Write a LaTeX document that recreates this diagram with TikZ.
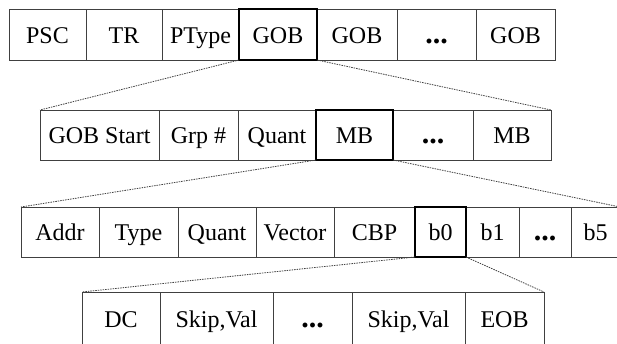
\documentclass[tikz,border=0pt]{standalone}
\usepackage{fontspec}
\setmainfont{Liberation Serif}
\usepackage{tikz}
\usetikzlibrary{shapes}
\usetikzlibrary{arrows}
\tikzstyle{field}=[
        rectangle,
        draw=black!75,
        line width=0.9pt,
        inner sep=0pt,
        outer sep=0pt,
        minimum height=50pt,
        text height=20pt,
        text depth=3pt,
        font=\fontsize{24}{28}\selectfont
]
\tikzstyle{zoomed}=[field,draw=black,line width=2.4pt]
\tikzstyle{expand}=[dash pattern=on 1.5pt off 1pt,line width=0.8pt,draw=black!75]
\newcommand{\gap}{{\fontsize{30}{30}\selectfont\textbf{...}}}

\begin{document}
\begin{tikzpicture}[x=1pt,y=-1pt]
\useasboundingbox (0,0) rectangle (617,343);
\clip (0,0) rectangle (617,343);
% picture layer
\node[field,minimum width=77pt,minimum height=51pt] (psc) at (47.5,34.5) {PSC};
\node[field,minimum width=76pt,minimum height=51pt] (tr) at (124,34.5) {TR};
\node[field,minimum width=77pt,minimum height=51pt] (ptype) at (200.5,34.5) {PType};
\node[field,minimum width=80pt,minimum height=51pt] (gob2) at (357,34.5) {GOB};
\node[field,minimum width=79pt,minimum height=51pt] (gobdots) at (436.5,34.5) {\gap};
\node[field,minimum width=79pt,minimum height=51pt] (gobn) at (515.5,34.5) {GOB};
\node[zoomed,minimum width=78pt,minimum height=51pt] (gob) at (278,34.5) {GOB};
% GOB layer
\node[field,minimum width=119pt] (gobstart) at (99.5,135) {GOB Start};
\node[field,minimum width=79pt] (grp) at (198.5,135) {Grp \#};
\node[field,minimum width=78pt] (gquant) at (277,135) {Quant};
\node[field,minimum width=80pt] (mbdots) at (433,135) {\gap};
\node[field,minimum width=78pt] (mbn) at (512,135) {MB};
\node[zoomed,minimum width=77pt] (mb) at (354.5,135) {MB};
% MB layer
\node[field,minimum width=78pt] (addr) at (60,232) {Addr};
\node[field,minimum width=79pt] (type) at (138.5,232) {Type};
\node[field,minimum width=78pt] (mquant) at (217,232) {Quant};
\node[field,minimum width=78pt] (vector) at (295,232) {Vector};
\node[field,minimum width=81pt] (cbp) at (374.5,232) {CBP};
\node[field,minimum width=53pt] (bone) at (492.5,232) {b1};
\node[field,minimum width=52pt] (bdots) at (545,232) {\gap};
\node[field,minimum width=49pt] (bfive) at (595.5,232) {b5};
\node[zoomed,minimum width=51pt] (bzero) at (440.5,232) {b0};
% block layer
\node[field,minimum width=78pt,minimum height=54pt] (dc) at (121,319) {DC};
\node[field,minimum width=113pt,minimum height=54pt] (skipa) at (216.5,319) {Skip,Val};
\node[field,minimum width=79pt,minimum height=54pt] (skipdots) at (312.5,319) {\gap};
\node[field,minimum width=113pt,minimum height=54pt] (skipb) at (408.5,319) {Skip,Val};
\node[field,minimum width=79pt,minimum height=54pt] (eob) at (504.5,319) {EOB};
%expansion lines
\draw[expand] (gob.south west) -- (gobstart.north west);
\draw[expand] (gob.south east) -- (mbn.north east);
\draw[expand] (mb.south west) -- (addr.north west);
\draw[expand] (mb.south east) -- (bfive.north east);
\draw[expand] (bzero.south west) -- (dc.north west);
\draw[expand] (bzero.south east) -- (eob.north east);
\end{tikzpicture}
\end{document}
